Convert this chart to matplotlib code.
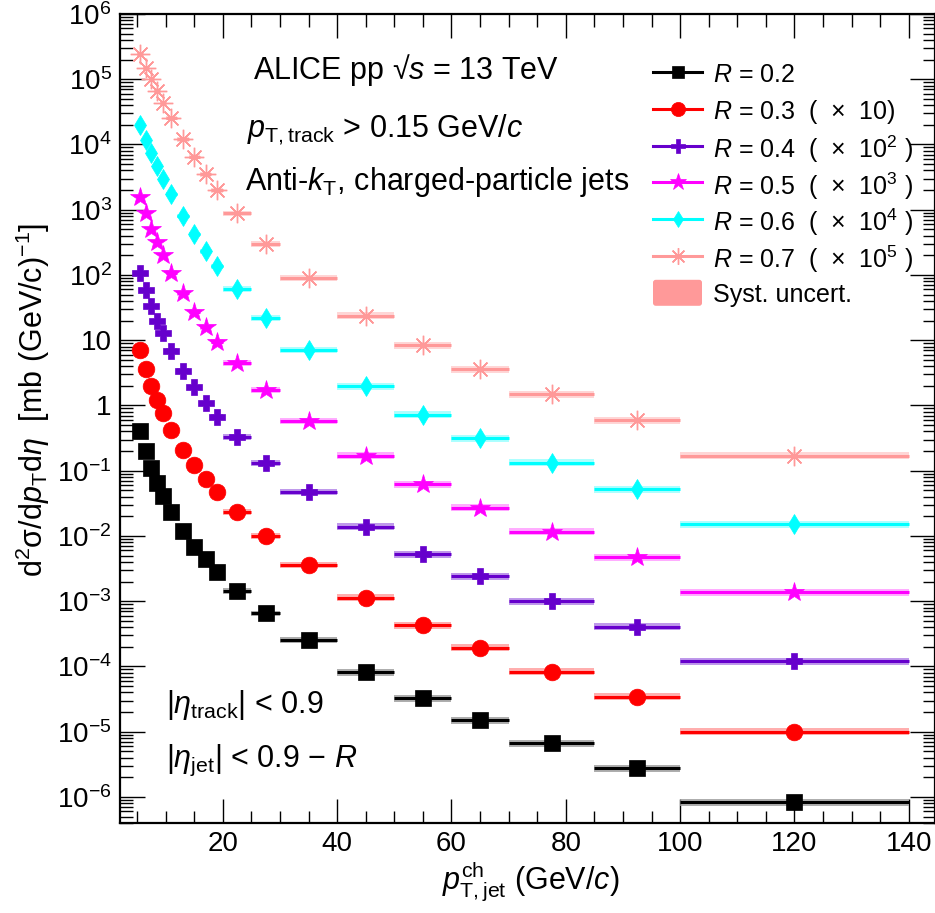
#!/usr/bin/env python3
"""ALICE pp 13 TeV charged-particle jet cross sections for R = 0.2 - 0.7."""
import matplotlib
matplotlib.use("Agg")
import matplotlib.pyplot as plt
import numpy as np
from matplotlib.lines import Line2D
from matplotlib.patches import FancyBboxPatch
from matplotlib.ticker import FixedLocator, LogLocator, MultipleLocator, NullFormatter

plt.rcParams["font.family"] = ["Liberation Sans", "DejaVu Sans"]
plt.rcParams["mathtext.fontset"] = "custom"
plt.rcParams["mathtext.rm"] = "Liberation Sans"
plt.rcParams["mathtext.it"] = "Liberation Sans:italic"
plt.rcParams["mathtext.bf"] = "Liberation Sans:bold"

# pT,jet bin edges (GeV/c)
BIN_EDGES = [5, 6, 7, 8, 9, 10, 12, 14, 16, 18, 20, 25, 30, 40, 50, 60, 70, 85, 100, 140]

# cross sections, mb (GeV/c)^-1, before the display scale factor
XS_R02 = [0.40, 0.203, 0.109, 0.0656, 0.041, 0.0236, 0.0121, 0.00686, 0.0044, 0.00284,
          0.00145, 6.5e-4, 2.55e-4, 8.1e-5, 3.26e-5, 1.51e-5, 6.65e-6, 2.75e-6, 8.3e-7]
XS_R03 = [0.71, 0.359, 0.199, 0.121, 0.0758, 0.0421, 0.0208, 0.0122, 0.0074, 0.00467,
          0.00236, 0.0010, 3.6e-4, 1.135e-4, 4.3e-5, 1.94e-5, 8.3e-6, 3.45e-6, 1.0e-6]
XS_R04 = [1.086, 0.589, 0.335, 0.199, 0.128, 0.0692, 0.0342, 0.019, 0.0108, 0.00673,
          0.00332, 0.00133, 4.72e-4, 1.39e-4, 5.3e-5, 2.44e-5, 1.01e-5, 4.07e-6, 1.19e-6]
XS_R05 = [1.552, 0.902, 0.513, 0.324, 0.200, 0.109, 0.0525, 0.0274, 0.0158, 0.0095,
          0.00453, 0.00173, 5.78e-4, 1.70e-4, 6.27e-5, 2.72e-5, 1.164e-5, 4.71e-6, 1.37e-6]
XS_R06 = [1.99, 1.17, 0.733, 0.473, 0.296, 0.1742, 0.0801, 0.042, 0.0233, 0.0137,
          0.00617, 0.00222, 7.10e-4, 1.99e-4, 7.22e-5, 3.14e-5, 1.33e-5, 5.25e-6, 1.53e-6]
XS_R07 = [2.41, 1.50, 0.998, 0.668, 0.437, 0.255, 0.120, 0.0651, 0.0353, 0.0201,
          0.00883, 0.00299, 9.1e-4, 2.38e-4, 8.45e-5, 3.63e-5, 1.50e-5, 6.0e-6, 1.70e-6]

# relative systematic uncertainty per bin (approx. band half-height)
SYST_REL = [0.08, 0.08, 0.08, 0.08, 0.08, 0.08, 0.08, 0.09, 0.09, 0.09,
            0.10, 0.10, 0.11, 0.12, 0.12, 0.12, 0.12, 0.12, 0.12]

RADII = ["0.2", "0.3", "0.4", "0.5", "0.6", "0.7"]
SCALE_EXP = [0, 1, 2, 3, 4, 5]
SPECTRA = [XS_R02, XS_R03, XS_R04, XS_R05, XS_R06, XS_R07]
COLORS = ["#000000", "#ff0000", "#6600cc", "#ff00ff", "#00ffff", "#ff9999"]
BAND_COLORS = ["#9a9a9a", "#ff9a9a", "#b080e6", "#ff99ff", "#99ffff", "#ffcccc"]
MARKERS = ["s", "o", "P", "*", "d", (8, 2, 0)]
MSIZES = [11, 12, 12, 15, 10, 14]
MEWS = [0.5, 0.5, 0.5, 0.5, 0.5, 1.0]

FIG_W, FIG_H = 935, 913


def px(x, y):
    return x / FIG_W, 1 - y / FIG_H


def main():
    fig = plt.figure(figsize=(FIG_W / 100, FIG_H / 100), dpi=100)
    ax = fig.add_axes([120 / FIG_W, 90 / FIG_H, 815 / FIG_W, 809 / FIG_H])

    edges = np.array(BIN_EDGES, dtype=float)
    centers = 0.5 * (edges[:-1] + edges[1:])
    half = 0.5 * np.diff(edges)
    syst = np.array(SYST_REL)

    for i, spec in enumerate(SPECTRA):
        y = np.array(spec) * 10.0 ** SCALE_EXP[i]
        ax.bar(centers, y * 2 * syst, bottom=y * (1 - syst), width=2 * half,
               color=BAND_COLORS[i], alpha=0.8, linewidth=0, zorder=2)
        ax.errorbar(centers, y, xerr=half, fmt="none", ecolor=COLORS[i],
                    elinewidth=2.2, capsize=0, zorder=3)
        ax.plot(centers, y, linestyle="none", marker=MARKERS[i], ms=MSIZES[i],
                color=COLORS[i], mec=COLORS[i], mew=MEWS[i], zorder=4)

    ax.set_yscale("log")
    ax.set_xlim(2, 144.6)
    ax.set_ylim(10 ** -6.4, 1e6)

    ax.xaxis.set_major_locator(MultipleLocator(20))
    ax.xaxis.set_minor_locator(MultipleLocator(5))
    exps = list(range(-6, 7))
    ax.yaxis.set_major_locator(FixedLocator([10.0 ** e for e in exps]))
    ax.yaxis.set_minor_locator(LogLocator(base=10, subs=np.arange(2, 10), numticks=30))
    ax.yaxis.set_minor_formatter(NullFormatter())
    ylabels = []
    for e in exps:
        if e == 0:
            ylabels.append("1")
        elif e == 1:
            ylabels.append("10")
        else:
            ylabels.append(rf"$10^{{{e}}}$")
    ax.set_yticklabels(ylabels)

    ax.tick_params(which="both", direction="in", top=True, right=True,
                   labelsize=20, width=1.0)
    ax.tick_params(axis="y", which="major", length=18, pad=6)
    ax.tick_params(axis="y", which="minor", length=9)
    ax.tick_params(axis="x", which="major", length=17, pad=6)
    ax.tick_params(axis="x", which="minor", length=9)
    for s in ax.spines.values():
        s.set_linewidth(1.6)

    # axis titles
    fig.text(*px(531, 888), r"$p_{\rm T,jet}^{\rm ch}$ (GeV/$c$)", fontsize=22,
             ha="center", va="baseline")
    fig.text(*px(33, 400), r"d$^{2}$σ/d$p_{\rm T}$d$\eta$  [mb (GeV/c)$^{-1}$]",
             fontsize=22, rotation=90, ha="center", va="center")

    # annotations
    fig.text(*px(253, 70), r"ALICE pp √$s$ = 13 TeV", fontsize=22, va="center")
    fig.text(*px(247, 130), r"$p_{\rm T,track}$ > 0.15 GeV/$c$", fontsize=22, va="center")
    fig.text(*px(245, 182), r"Anti-$k_{\rm T}$, charged-particle jets", fontsize=22, va="center")
    fig.text(*px(166, 705), r"|$\eta_{\rm track}$| < 0.9", fontsize=22, va="center")
    fig.text(*px(166, 760), r"|$\eta_{\rm jet}$| < 0.9 − $R$", fontsize=22, va="center")

    # legend, drawn row by row so the spacing stays even
    row0, pitch = 72, 36.8
    hx0, hx1, tx = 653, 702, 713
    for i, r in enumerate(RADII):
        yrow = row0 + i * pitch
        xa, ya = px(hx0, yrow)
        xb, _ = px(hx1, yrow)
        fig.add_artist(Line2D([xa, 0.5 * (xa + xb), xb], [ya, ya, ya],
                              transform=fig.transFigure, color=COLORS[i], lw=2.2,
                              marker=MARKERS[i], markevery=[1], ms=MSIZES[i] * 0.85,
                              mec=COLORS[i], mew=MEWS[i]))
        e = SCALE_EXP[i]
        if e == 0:
            lab = rf"$R$ = {r}"
        elif e == 1:
            lab = rf"$R$ = {r}  (  ×  10)"
        else:
            lab = rf"$R$ = {r}  (  ×  10$^{{{e}}}$ )"
        fig.text(*px(tx, yrow), lab, fontsize=18, va="center_baseline")
    yrow = row0 + len(RADII) * pitch
    bx, by = px(hx0, yrow + 13)
    fig.add_artist(FancyBboxPatch((bx, by), 49 / FIG_W, 26 / FIG_H,
                                  boxstyle="round,pad=0,rounding_size=0.003",
                                  transform=fig.transFigure, facecolor="#ff9999",
                                  edgecolor="none"))
    fig.text(*px(tx, yrow), "Syst. uncert.", fontsize=18, va="center_baseline")

    fig.savefig("out.png", dpi=100)
    plt.close(fig)


if __name__ == "__main__":
    main()
